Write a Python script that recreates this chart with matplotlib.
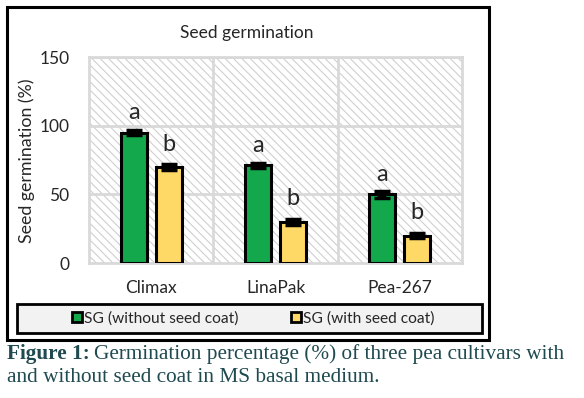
import matplotlib
matplotlib.use("Agg")
import matplotlib.pyplot as plt
from matplotlib.patches import Rectangle
from matplotlib.lines import Line2D
import numpy as np

categories = ["Climax", "LinaPak", "Pea-267"]
sg_without = [95, 71, 50]
sg_with = [70, 30, 20]
err_without = [2, 2, 2.5]
err_with = [2, 2, 1.5]
letters_without = ["a", "a", "a"]
letters_with = ["b", "b", "b"]
series_names = ["SG (without seed coat)", "SG (with seed coat)"]
yticks = [0, 50, 100, 150]

W, H = 584, 398
fig = plt.figure(figsize=(W / 100, H / 100), dpi=100)
plt.rcParams['font.family'] = ['Lato', 'DejaVu Sans']
plt.rcParams['hatch.linewidth'] = 0.8

def fx(px):
    return px / W

def fy(py):
    return 1 - py / H

green = "#12a84b"
yellow = "#ffd966"
dark = "#262626"

# outer chart frame
fig.patches.append(Rectangle((fx(7), fy(340)), fx(489) - fx(7), fy(7) - fy(340),
                             transform=fig.transFigure, facecolor="white",
                             edgecolor="black", linewidth=2.2, zorder=-5))

ax = fig.add_axes([fx(89), fy(263), fx(462) - fx(89), fy(57) - fy(263)])
ax.set_zorder(3)
ax.set_facecolor("white")
ax.add_patch(Rectangle((0, 0), 1, 1, transform=ax.transAxes, facecolor="white",
                       edgecolor="#cfcfcf", hatch="\\" * 4, linewidth=0, zorder=0))

x = np.arange(len(categories))
off = 0.14
bw = 0.21
ax.bar(x - off, sg_without, bw, color=green, edgecolor="black", linewidth=2.2, zorder=3)
ax.bar(x + off, sg_with, bw, color=yellow, edgecolor="black", linewidth=2.2, zorder=3)
ax.errorbar(x - off, sg_without, yerr=err_without, fmt="none", ecolor="black",
            elinewidth=6, capsize=5.5, capthick=2.5, zorder=4)
ax.errorbar(x + off, sg_with, yerr=err_with, fmt="none", ecolor="black",
            elinewidth=6, capsize=5.5, capthick=2.5, zorder=4)

for i in range(len(categories)):
    ax.text(x[i] - off, sg_without[i] + 7, letters_without[i], ha="center", va="bottom",
            fontsize=17, color=dark, zorder=5)
    ax.text(x[i] + off, sg_with[i] + 9, letters_with[i], ha="center", va="bottom",
            fontsize=17, color=dark, zorder=5)

ax.set_xlim(-0.5, 2.5)
ax.set_ylim(0, 150)
ax.set_yticks(yticks)
ax.set_xticks(x)
ax.set_xticklabels(categories)
ax.tick_params(axis="both", length=0, labelsize=12.5, colors=dark)
ax.tick_params(axis="x", pad=12)
ax.tick_params(axis="y", pad=14)
for v in [50, 100, 150]:
    ax.axhline(v, color="#d9d9d9", linewidth=2, zorder=1)
for v in [0.5, 1.5]:
    ax.axvline(v, color="#d9d9d9", linewidth=2, zorder=1)
for s in ax.spines.values():
    s.set_color("#d9d9d9")
    s.set_linewidth(2)

fig.text(fx(27), fy(161), "Seed germination (%)", rotation=90, ha="center", va="center",
         fontsize=12.8, color=dark)
fig.text(fx(247), fy(33), "Seed germination", ha="center", va="center",
         fontsize=12.5, color=dark)

# legend box
fig.patches.append(Rectangle((fx(17), fy(333)), fx(482) - fx(17), fy(304) - fy(333),
                             transform=fig.transFigure, facecolor="#f2f2f2",
                             edgecolor="black", linewidth=2, zorder=1))
handles = [Line2D([], [], linestyle="none", marker="s", markersize=7, markerfacecolor=c,
                  markeredgecolor="black", markeredgewidth=2) for c in (green, yellow)]
leg = fig.legend(handles, series_names, loc="center", bbox_to_anchor=(fx(253), fy(318.5)),
                 ncol=2, frameon=False, fontsize=11.2, handletextpad=0.05, handlelength=0.8,
                 columnspacing=3.3, labelcolor=dark)
leg.set_zorder(4)

# caption
capc = "#1f4a50"
t1 = fig.text(fx(7), fy(354), "Figure 1:", fontsize=15.3, fontweight="bold",
              family="Liberation Serif", color=capc, ha="left", va="center")
fig.canvas.draw()
bb = t1.get_window_extent()
fig.text(bb.x1 / W + fx(4), fy(354),
         "Germination percentage (%) of three pea cultivars with",
         fontsize=15.3, family="Liberation Serif", color=capc, ha="left", va="center")
fig.text(fx(7), fy(377), "and without seed coat in MS basal medium.",
         fontsize=15.3, family="Liberation Serif", color=capc, ha="left", va="center")

fig.savefig("out.png", dpi=100)
